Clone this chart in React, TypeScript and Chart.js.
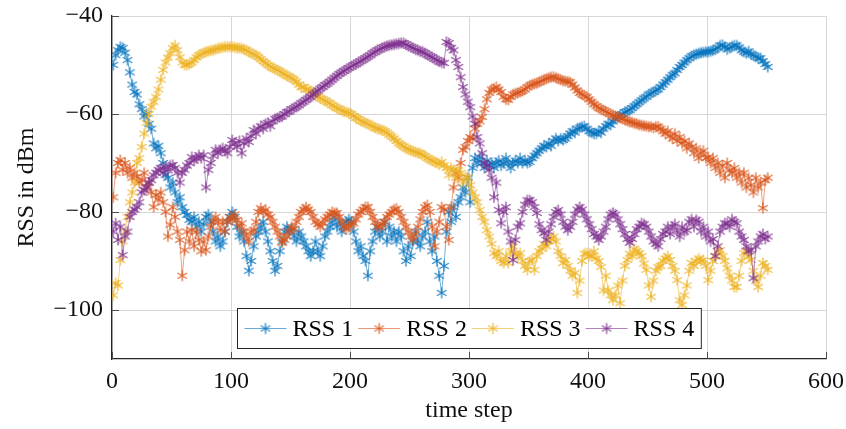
import React, { useEffect, useRef } from 'react';
import { Chart, registerables } from 'chart.js';

Chart.register(...registerables);

// time steps: first step and spacing of the sampled readings
const firstStep = 1;
const stepEvery = 2;

const rss1 = [
  -50, -48, -47, -46.3, -46.5, -47.5, -49, -51.5, -54, -55.5,
  -56, -58, -59, -60.5, -60, -62, -63, -66, -67, -66.5,
  -68, -70, -72.4, -73, -75, -74, -76, -78, -77, -79,
  -80, -80.6, -81.6, -82, -81, -83, -82, -84, -82.5, -81,
  -80.5, -82, -84, -86, -85, -87, -86, -84, -82, -81,
  -80, -81, -83, -85, -84, -86, -89, -92, -90, -87,
  -85, -84, -83, -82, -84, -86, -88, -90, -92, -91,
  -88, -86, -84, -83, -84, -83.5, -85, -86, -84, -85,
  -86, -87, -88, -89, -88, -86, -88, -89, -87, -85,
  -84, -83, -82, -81, -83, -82, -84, -83, -82, -81.5,
  -82, -84, -86, -88, -87, -89, -90, -93, -88, -86,
  -84, -83, -85, -84, -82, -86, -83, -85, -84, -86,
  -84, -85, -88, -90, -87, -89, -86, -84, -86, -87,
  -85, -84, -82, -86, -88, -85, -90, -93, -96.5, -91,
  -84, -80, -82, -79, -81, -78, -77, -75, -76, -73,
  -78, -71, -69, -70, -68.8, -70, -71, -69.5, -70.5, -70,
  -71, -70, -69.5, -70.5, -70, -69, -70, -71, -70, -69.5,
  -70, -69, -70, -69.5, -70, -69.8, -69, -68.5, -68, -67.5,
  -67, -66.5, -66.7, -66, -66.5, -65.5, -65, -65.5, -65, -65.3,
  -65, -64.5, -64, -63.5, -63.8, -63, -62.8, -62.6, -62.5, -63,
  -63.5, -63.8, -64, -64, -63.5, -63.8, -63, -62.5, -62, -62.2,
  -61.5, -61, -60.6, -60.2, -60, -59.6, -59.4, -59.2, -58.8, -58.4,
  -58, -57.6, -57.2, -56.8, -56.5, -56, -55.8, -55.5, -55.2, -55,
  -54.5, -54, -53.5, -53, -52.5, -52, -51.7, -51, -50.4, -50,
  -49.5, -49, -48.6, -48.2, -48, -47.8, -47.6, -47.5, -47.4, -47.3,
  -47.3, -47.2, -47, -46.8, -46.5, -46, -45.9, -46.3, -46.8, -46.5,
  -46.2, -46, -46, -46.4, -47, -47.3, -47.6, -47.2, -47.8, -48,
  -48.3, -48.6, -48.6, -49.2, -49.8, -50.4,
];

const rss2 = [
  -77, -72, -70, -69.4, -71.4, -70, -72, -71, -73, -72,
  -72.8, -74, -73.5, -72, -75, -74, -76, -79, -76.5, -77.5,
  -76, -78, -80, -85, -82.6, -79, -81, -84, -85.7, -93,
  -87.8, -84, -86, -83.7, -87, -84, -85.7, -88, -86, -87.8,
  -85, -83, -82, -81, -82, -83.7, -82, -84, -82, -81,
  -81.6, -80.5, -81.6, -83, -82.3, -84, -85, -86, -84, -83.7,
  -82, -80, -79.2, -80, -79.5, -80.5, -81, -82, -83, -84,
  -85, -86.3, -85.7, -85, -84, -83, -83.5, -82, -81, -80,
  -79.5, -79, -79.5, -80, -81, -82, -82.5, -83, -82.3, -81.5,
  -81, -80.5, -80, -80.2, -80.2, -81, -82, -83, -83.5, -83,
  -82.5, -82.3, -81.5, -80.5, -80, -79.5, -79, -79, -80, -81,
  -82, -83, -83, -82.5, -82, -81, -80.5, -80, -79.5, -79.3,
  -80, -81, -82, -83, -84, -85, -85.7, -84.5, -83, -81.5,
  -80, -79, -78.6, -80, -83, -87, -84, -82, -79, -79.5,
  -83, -85.7, -79, -75, -72, -73, -70, -67.3, -66.7, -65.5,
  -64.7, -65, -63, -62, -61.5, -60.6, -59, -57, -55.7, -55,
  -54.8, -54.5, -55, -55.5, -56.5, -57, -57.1, -56.5, -56, -55.8,
  -55.7, -55.5, -55.3, -55, -54.5, -54.2, -54, -53.8, -53.7, -53.5,
  -53.2, -53, -52.8, -52.6, -52.5, -52.4, -52.6, -52.8, -53, -53.2,
  -53.3, -53.4, -53.5, -54, -54.6, -55.2, -55.7, -56, -56.3, -56.5,
  -57, -57.5, -58, -58.4, -58.8, -59, -59.2, -59.5, -59.8, -60,
  -60.2, -60.4, -60.6, -60.8, -61, -61.2, -61.4, -61.6, -61.7, -61.9,
  -62, -62.2, -62.3, -62.4, -62.5, -62.6, -62.6, -62.8, -62.6, -62.6,
  -63, -63.5, -64, -63.5, -64.5, -65, -64, -65.5, -64.7, -66,
  -65.5, -67, -66, -66.7, -68, -67, -69, -68, -67.5, -69,
  -68.8, -70, -69, -71, -70, -72, -70.5, -73, -70, -71.5,
  -72, -71, -73, -72, -74, -72, -75, -73, -74.5, -76,
  -73, -75, -74, -79.2, -73.5, -73,
];

const rss3 = [
  -97, -94.5, -95, -89.8, -86, -84, -81, -78, -76, -74,
  -70, -69, -66.7, -64, -61.8, -60, -58.5, -57.5, -56.5, -55,
  -53, -51, -49.5, -48.5, -47.6, -46.5, -46, -47, -48.4, -49.5,
  -50, -50, -49.8, -49.5, -49, -48.4, -48, -47.8, -47.5, -47.3,
  -47.2, -47, -47, -46.8, -46.6, -46.5, -46.4, -46.3, -46.3, -46.3,
  -46.3, -46.4, -46.5, -46.5, -46.6, -46.8, -47, -47.3, -47.6, -47.8,
  -48, -48.4, -48.8, -49.2, -49.6, -50, -50.3, -50.6, -50.8, -51,
  -51.3, -51.6, -51.9, -52.2, -52.4, -52.7, -53, -53.4, -54, -54.5,
  -54.5, -55, -55, -55.3, -55.8, -56, -56.4, -56.8, -57, -57.3,
  -57.6, -57.8, -58.2, -58.5, -58.8, -59, -59.3, -59.5, -59.6, -59.8,
  -60, -60.4, -60.8, -61, -61.4, -61.6, -61.8, -62, -62.3, -62.5,
  -62.8, -63, -63.1, -63.3, -63.5, -63.8, -64.2, -64.6, -65, -65.5,
  -66, -66.3, -66.6, -67, -67.2, -67.4, -67.6, -67.8, -68, -68,
  -68.3, -68.6, -69, -69.3, -69.5, -69.7, -70, -70.3, -69.8, -70.5,
  -71, -72.5, -71, -71.4, -73, -71.5, -72, -74, -72.8, -73,
  -74.5, -76, -77, -78, -79.6, -81, -82, -83.7, -85, -86.5,
  -88.4, -89, -88, -90, -90.4, -89, -90.4, -88, -87, -88.5,
  -89, -88.4, -90, -91, -91.8, -90, -89.8, -91.8, -89, -88,
  -87.5, -86.5, -87, -86, -85.5, -85, -86, -88, -89, -90.4,
  -89.8, -91, -92, -93, -92.4, -96.5, -94, -90, -88.5, -88.4,
  -89, -89, -88, -89.5, -90, -91.2, -96, -93, -96, -97,
  -98, -97, -95, -98.6, -94, -91, -89.8, -88.5, -89, -87.5,
  -88, -88.4, -89, -90.5, -91.8, -95, -97.3, -94, -92, -91.2,
  -91, -90, -89.5, -89, -89.8, -91, -92, -93.9, -98, -99,
  -97, -95, -92, -90.4, -91, -90, -89.5, -90, -89.8, -91,
  -93.9, -92, -90, -89, -88, -87.8, -89, -90, -91.5, -93,
  -94, -95.3, -95.3, -93, -90, -88.4, -88, -89, -89.8, -92,
  -94, -95.3, -93, -90.4, -91, -91.8,
];

const rss4 = [
  -84, -82.3, -85.7, -83, -88.8, -85, -84, -81, -80, -79.5,
  -79, -78, -76, -75.5, -75, -74, -73.5, -72.5, -72, -71.4,
  -71, -72, -70.8, -71.5, -70.5, -70.4, -71, -72, -74, -72,
  -71.4, -70.5, -70, -68.8, -69.5, -69, -68.4, -69, -68.4, -75,
  -71.4, -70, -68.5, -67.3, -68, -67.3, -67, -67.5, -68, -66.7,
  -65.3, -66, -66.7, -65.5, -68, -66, -65, -65.7, -64.5, -63.3,
  -64, -63, -62.5, -63, -62, -61.8, -62.5, -61.5, -61, -60.8,
  -60.6, -60.5, -60, -59.6, -59.5, -59, -58.8, -58.5, -58.2, -57.8,
  -57.5, -57.1, -56.8, -56.5, -56, -55.6, -55.2, -54.8, -54.5, -54.1,
  -53.8, -53.4, -53, -52.6, -52.2, -51.8, -51.5, -51.2, -50.9, -50.6,
  -50.3, -50, -49.8, -49.5, -49.2, -48.9, -48.6, -48.3, -48, -47.6,
  -47.3, -47, -46.8, -46.5, -46.3, -46.1, -46, -45.9, -45.8, -45.7,
  -45.6, -45.5, -45.5, -45.8, -46.1, -46.3, -46.5, -46.8, -47, -47.2,
  -47.3, -47.6, -47.9, -48.2, -48.4, -48.7, -49, -49.3, -49.5, -49.6,
  -45.3, -45.5, -46.5, -47, -49, -50.4, -52.5, -54.5, -56, -57.5,
  -58.6, -60.5, -62, -64.7, -66, -68, -70, -70.5, -71.4, -73,
  -77, -74, -79.6, -82.3, -80, -79, -84, -86, -89.8, -85.7,
  -83, -82.3, -80, -78.5, -77.6, -77.6, -78, -79, -80.2, -82.5,
  -83.7, -84.3, -85.7, -84, -82.5, -81, -80, -79.6, -80.5, -82,
  -83, -83.7, -83, -82, -80.5, -79.5, -79, -79.5, -80.5, -81.5,
  -82.5, -83.5, -84.5, -85, -85.7, -85, -84, -83, -81.5, -80.5,
  -80.2, -80.5, -81.5, -82.5, -83.5, -84.5, -85.5, -86.3, -85.5, -84.5,
  -83.5, -83, -82.3, -82.5, -83, -84, -85, -86, -86.5, -87,
  -85.5, -84.5, -84, -83, -84.5, -83, -82.5, -84, -85, -83,
  -84, -83.7, -82, -81.5, -83, -81.6, -82, -84, -83, -85,
  -84, -86, -85.5, -89, -87, -84, -83, -82.3, -82.3, -83,
  -81.5, -82, -82.3, -84, -85, -85.7, -87, -88, -87.8, -93.5,
  -87, -86, -85, -84.5, -85.5, -85,
];

const seriesLabels = ['RSS 1', 'RSS 2', 'RSS 3', 'RSS 4'];
const seriesValues = [rss1, rss2, rss3, rss4];
const seriesColors = ['#0072BD', '#D95319', '#EDB120', '#7E2F8E'];

const xTicks = [0, 100, 200, 300, 400, 500, 600];
const yTicks = [-100, -80, -60, -40];

const xTitle = 'time step';
const yTitle = 'RSS in dBm';

const FONT = '"Liberation Serif", "Times New Roman", serif';
const FONT_SIZE = 24;

function hexA(hex: string, a: number) {
  const n = parseInt(hex.slice(1), 16);
  return `rgba(${(n >> 16) & 255},${(n >> 8) & 255},${n & 255},${a})`;
}

function makeAsterisk(color: string) {
  const s = 14;
  const c = document.createElement('canvas');
  c.width = s;
  c.height = s;
  const ctx = c.getContext('2d')!;
  ctx.strokeStyle = hexA(color, 0.85);
  ctx.lineWidth = 1.3;
  ctx.lineCap = 'butt';
  const cx = s / 2;
  const cy = s / 2;
  const r = 5.5;
  ctx.beginPath();
  for (let k = 0; k < 3; k++) {
    const a = Math.PI / 2 + (k * Math.PI) / 3;
    ctx.moveTo(cx + r * Math.cos(a), cy + r * Math.sin(a));
    ctx.lineTo(cx - r * Math.cos(a), cy - r * Math.sin(a));
  }
  ctx.stroke();
  return c;
}

const fmt = (v: number) => (v < 0 ? '\u2212' + Math.abs(v) : String(v));

export default function App() {
  const ref = useRef<HTMLCanvasElement | null>(null);

  useEffect(() => {
    const canvas = ref.current;
    if (!canvas) return;
    const markers = seriesColors.map((c) => makeAsterisk(c));

    const insideTicks = {
      id: 'insideTicks',
      afterDatasetsDraw(chart: any) {
        const { ctx, chartArea, scales } = chart;
        ctx.save();
        ctx.strokeStyle = '#4d4d4d';
        ctx.lineWidth = 1;
        const len = 7;
        ctx.beginPath();
        xTicks.forEach((v) => {
          const x = Math.round(scales.x.getPixelForValue(v)) + 0.5;
          ctx.moveTo(x, chartArea.bottom);
          ctx.lineTo(x, chartArea.bottom - len);
        });
        yTicks.forEach((v) => {
          const y = Math.round(scales.y.getPixelForValue(v)) + 0.5;
          ctx.moveTo(chartArea.left, y);
          ctx.lineTo(chartArea.left + len, y);
        });
        ctx.stroke();
        ctx.restore();
      },
    };

    const boxLegend = {
      id: 'boxLegend',
      afterDraw(chart: any) {
        const { ctx, chartArea } = chart;
        ctx.save();
        ctx.font = `${FONT_SIZE}px ${FONT}`;
        const lineLen = 42;
        const gapLT = 6;
        const gapItem = 5;
        const pad = 7;
        const h = 40;
        const widths = seriesLabels.map((l) => ctx.measureText(l).width);
        const total =
          pad * 2 +
          widths.reduce((a, w) => a + lineLen + gapLT + w, 0) +
          gapItem * (seriesLabels.length - 1);
        const cx = (chartArea.left + chartArea.right) / 2;
        const x0 = Math.round(cx - total / 2) + 0.5;
        const y0 = Math.round(chartArea.bottom - 11 - h) + 0.5;
        ctx.fillStyle = '#ffffff';
        ctx.fillRect(x0, y0, total, h);
        ctx.strokeStyle = '#262626';
        ctx.lineWidth = 1;
        ctx.strokeRect(x0, y0, total, h);
        let x = x0 + pad;
        const ym = y0 + h / 2;
        seriesLabels.forEach((label, i) => {
          ctx.strokeStyle = hexA(seriesColors[i], 0.6);
          ctx.lineWidth = 1.2;
          ctx.beginPath();
          ctx.moveTo(x, ym);
          ctx.lineTo(x + lineLen, ym);
          ctx.stroke();
          const m = markers[i];
          ctx.drawImage(m, x + lineLen / 2 - m.width / 2, ym - m.height / 2);
          ctx.fillStyle = '#000000';
          ctx.textBaseline = 'middle';
          ctx.textAlign = 'left';
          ctx.fillText(label, x + lineLen + gapLT, ym + 1);
          x += lineLen + gapLT + widths[i] + gapItem;
        });
        ctx.restore();
      },
    };

    const datasets = seriesValues.map((vals, i) => ({
      label: seriesLabels[i],
      data: vals.map((v, k) => ({ x: firstStep + k * stepEvery, y: v })),
      borderColor: hexA(seriesColors[i], 0.55),
      backgroundColor: seriesColors[i],
      borderWidth: 1,
      pointStyle: markers[i],
      pointRadius: 5,
      order: seriesLabels.length - i,
      tension: 0,
    }));

    const chart = new Chart(canvas, {
      type: 'line',
      data: { datasets },
      plugins: [insideTicks, boxLegend],
      options: {
        responsive: false,
        animation: false,
        events: [],
        layout: { padding: { left: 0, right: 20, top: 16, bottom: 0 } },
        plugins: { legend: { display: false }, tooltip: { enabled: false } },
        scales: {
          x: {
            type: 'linear',
            min: 0,
            max: 600,
            afterBuildTicks: (s: any) => {
              s.ticks = xTicks.map((v) => ({ value: v }));
            },
            afterFit: (s: any) => {
              s.height = 70;
              s.paddingLeft = 0;
              s.paddingRight = 0;
            },
            grid: { color: '#d6d6d6', lineWidth: 1, drawTicks: false },
            border: { color: '#262626', width: 1.3 },
            ticks: {
              padding: 8,
              color: '#111111',
              font: { family: FONT, size: FONT_SIZE },
              maxRotation: 0,
              callback: (v: any) => fmt(Number(v)),
            },
            title: {
              display: true,
              text: xTitle,
              color: '#111111',
              font: { family: FONT, size: FONT_SIZE },
              padding: { top: 0, bottom: 4 },
            },
          },
          y: {
            type: 'linear',
            min: -110,
            max: -40,
            afterBuildTicks: (s: any) => {
              s.ticks = yTicks.map((v) => ({ value: v }));
            },
            afterFit: (s: any) => {
              s.width = 112;
              s.paddingTop = 0;
              s.paddingBottom = 0;
            },
            grid: { color: '#d6d6d6', lineWidth: 1, drawTicks: false },
            border: { color: '#262626', width: 1.3 },
            ticks: {
              padding: 9,
              color: '#111111',
              font: { family: FONT, size: FONT_SIZE },
              callback: (v: any) => fmt(Number(v)),
            },
            title: {
              display: true,
              text: yTitle,
              color: '#111111',
              font: { family: FONT, size: FONT_SIZE },
              padding: { top: 12, bottom: 0 },
            },
          },
        },
      },
    } as any);

    return () => chart.destroy();
  }, []);

  return (
    <div style={{ position: 'fixed', left: 0, top: 0, width: 846, height: 429, background: '#ffffff' }}>
      <canvas ref={ref} width={846} height={429} style={{ width: 846, height: 429, display: 'block' }} />
    </div>
  );
}
